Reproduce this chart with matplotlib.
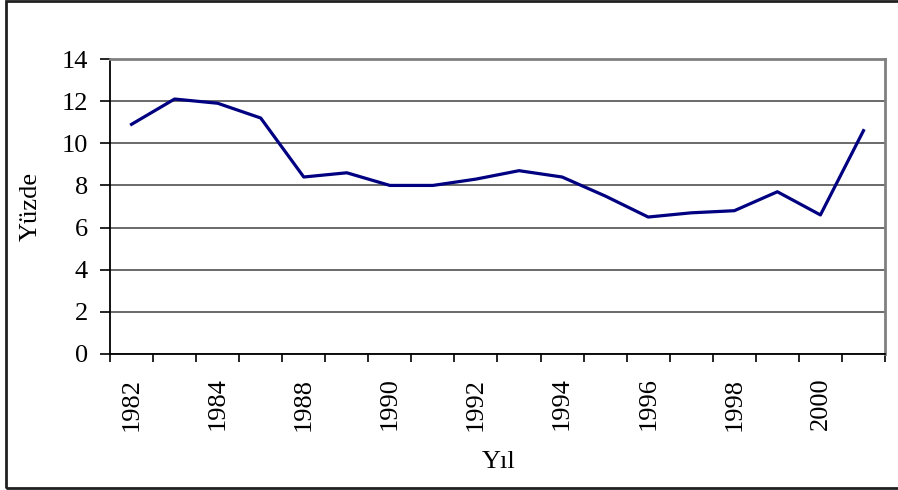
import matplotlib.pyplot as plt
from matplotlib.patches import Rectangle

# veriler
yillar = [1982, 1983, 1984, 1986, 1988, 1989, 1990, 1991, 1992, 1993,
          1994, 1995, 1996, 1997, 1998, 1999, 2000, 2001]
yuzde = [10.9, 12.1, 11.9, 11.2, 8.4, 8.6, 8.0, 8.0, 8.3, 8.7,
         8.4, 7.5, 6.5, 6.7, 6.8, 7.7, 6.6, 10.6]
y_ticks = [0, 2, 4, 6, 8, 10, 12, 14]

plt.rcParams['font.family'] = ['Liberation Serif', 'DejaVu Serif']

fig = plt.figure(figsize=(8.98, 4.90), dpi=100)
ax = fig.add_axes([110 / 898, 1 - 354 / 490, 775 / 898, 295 / 490])

x = list(range(len(yillar)))
ax.plot(x, yuzde, color='#000080', linewidth=2.3, zorder=3)

ax.set_xlim(-0.5, len(yillar) - 0.5)
ax.set_ylim(0, 14)
ax.set_yticks(y_ticks)
ax.set_yticklabels([str(v) for v in y_ticks])

# kategori sınırlarında tik, her iki yılda bir etiket
ax.set_xticks([i - 0.5 for i in range(len(yillar) + 1)])
ax.set_xticklabels([])
ax.set_xticks(x[::2], minor=True)
ax.set_xticklabels([str(y) for y in yillar[::2]], minor=True, rotation=90)
ax.tick_params(axis='x', which='major', direction='out', length=6, width=1.2, color='black')
ax.tick_params(axis='x', which='minor', length=0, pad=17, labelsize=19)
ax.tick_params(axis='y', direction='out', length=7, width=1.2, pad=9, labelsize=19)

ax.grid(axis='y', color='#505050', linewidth=1.2, zorder=1)
ax.set_axisbelow(True)

ax.spines['left'].set_color('black')
ax.spines['bottom'].set_color('black')
ax.spines['left'].set_linewidth(1.3)
ax.spines['bottom'].set_linewidth(1.3)
for s in ['top', 'right']:
    ax.spines[s].set_color('#808080')
    ax.spines[s].set_linewidth(2)

fig.text(31 / 898, 1 - 206 / 490, 'Yüzde', rotation=90, ha='center', va='center', fontsize=19)
fig.text(499 / 898, 1 - 462 / 490, 'Yıl', ha='center', va='center', fontsize=19)

# dış çerçeve
fig.patches.append(Rectangle((6 / 898, 2 / 490), 1.0, 487 / 490, transform=fig.transFigure,
                             fill=False, edgecolor='#202020', linewidth=2))

fig.savefig('out.png', dpi=100)
